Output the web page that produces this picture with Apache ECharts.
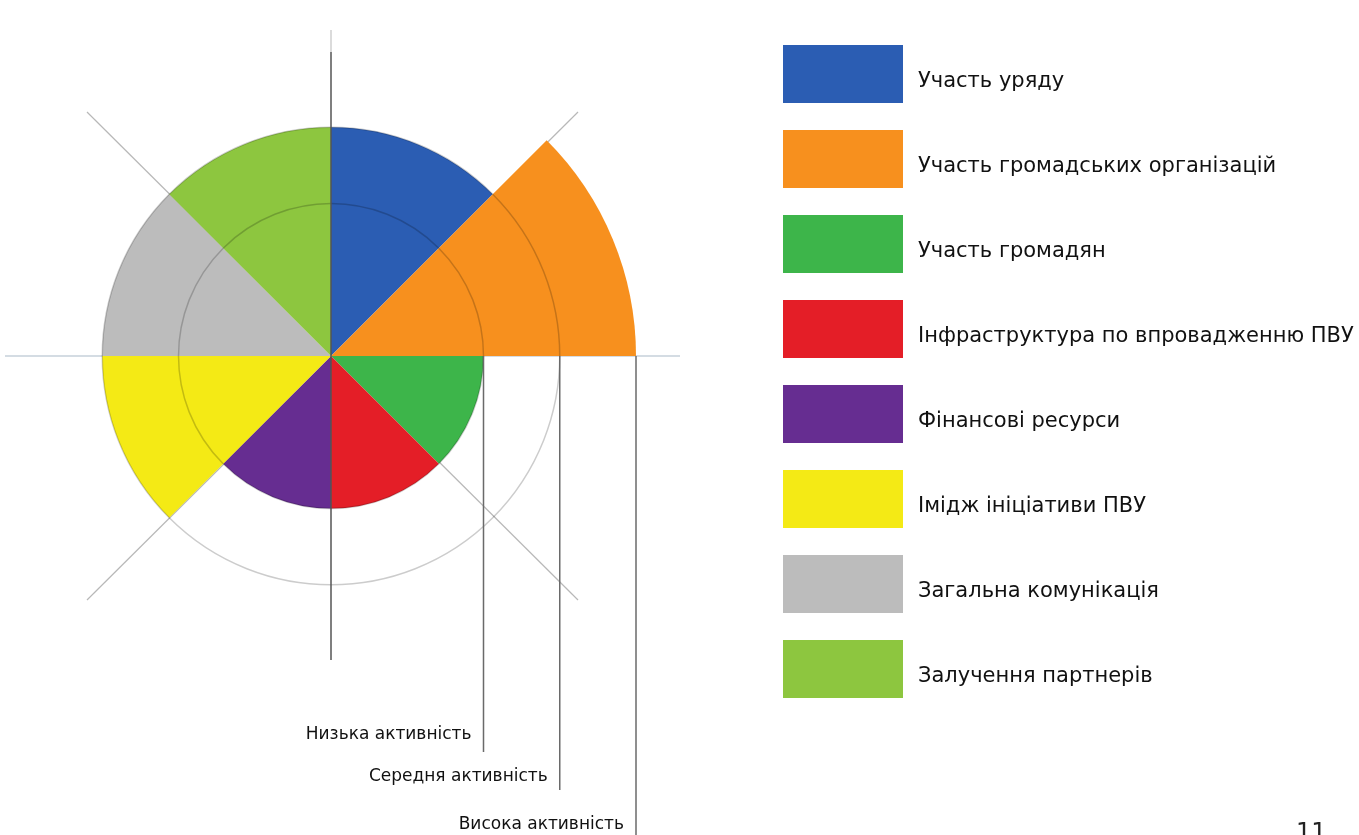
<!DOCTYPE html>
<html>
<head>
<meta charset="utf-8">
<script src="https://cdn.jsdelivr.net/npm/echarts@6/dist/echarts.min.js"></script>
<style>html,body{margin:0;padding:0;background:#fff}#c{width:1359px;height:835px}</style>
</head>
<body>
<div id="c"></div>
<script>
// Data
const categories = ['Участь уряду','Участь громадських організацій','Участь громадян','Інфраструктура по впровадженню ПВУ','Фінансові ресурси','Імідж ініціативи ПВУ','Загальна комунікація','Залучення партнерів'];
const values = [3, 4, 2, 2, 2, 3, 3, 3];
const colors = ['#2b5db3','#f7901e','#3db54a','#e41e27','#662d91','#f4ea15','#bcbcbc','#8dc63f'];
const levelLabels = ['Низька активність','Середня активність','Висока активність'];
const levelValues = [2, 3, 4];

const cx = 331, cy = 356, R = 305, maxV = 4;
const chart = echarts.init(document.getElementById('c'));

const series = categories.map((name, i) => ({
  name: name,
  type: 'bar',
  coordinateSystem: 'polar',
  stack: 'all',
  barCategoryGap: '0%',
  itemStyle: { color: colors[i] },
  data: categories.map((c, j) => j === i ? values[i] : '-'),
  z: 2
}));

// guide lines
const gfx = [];
gfx.push({ type:'line', shape:{x1:87,y1:112,x2:578,y2:600}, style:{stroke:'#b8b8b8',lineWidth:1.2}, z:0 });
gfx.push({ type:'line', shape:{x1:578,y1:112,x2:87,y2:600}, style:{stroke:'#b8b8b8',lineWidth:1.2}, z:0 });
gfx.push({ type:'line', shape:{x1:5,y1:cy,x2:680,y2:cy}, style:{stroke:'#c6d0da',lineWidth:1.5}, z:0 });
gfx.push({ type:'line', shape:{x1:cx,y1:30,x2:cx,y2:52}, style:{stroke:'#cfcfcf',lineWidth:1.5}, z:0 });
gfx.push({ type:'line', shape:{x1:cx,y1:52,x2:cx,y2:660}, style:{stroke:'#555',lineWidth:1.5}, z:100 });
const leaderEnds = [752, 790, 835];
const labelY = [735, 777, 825];
levelValues.forEach((v, k) => {
  const x = cx + R * v / maxV;
  gfx.push({ type:'line', shape:{x1:x,y1:cy,x2:x,y2:leaderEnds[k]}, style:{stroke:'#6a6a6a',lineWidth:1.5}, z:100 });
  gfx.push({ type:'text', x: x - 12, y: labelY[k], style:{ text: levelLabels[k], fill:'#111', font:'17px "DejaVu Sans"', textAlign:'right', textVerticalAlign:'middle' }, z:100 });
});
gfx.push({ type:'text', x:1296, y:822, style:{ text:'11', fill:'#222', font:'24px "DejaVu Sans"', textAlign:'left', textVerticalAlign:'top' }, z:100 });

chart.setOption({
  backgroundColor: '#fff',
  animation: false,
  polar: { center: [cx, cy], radius: R },
  angleAxis: {
    type: 'category',
    data: categories,
    startAngle: 90,
    axisLine: { show: false },
    axisTick: { show: false },
    axisLabel: { show: false },
    splitLine: { show: false }
  },
  radiusAxis: {
    type: 'value',
    min: 0, max: maxV, interval: 1,
    z: 5,
    axisLine: { show: false },
    axisTick: { show: false },
    axisLabel: { show: false },
    splitLine: { show: true, lineStyle: { color: ['rgba(0,0,0,0)','rgba(0,0,0,0)','rgba(0,0,0,0.2)','rgba(0,0,0,0.2)','rgba(0,0,0,0)'], width: 1.5 } }
  },
  legend: {
    orient: 'vertical',
    left: 778, top: 40,
    itemWidth: 120, itemHeight: 58, itemGap: 27,
    icon: 'rect',
    selectedMode: false,
    data: categories,
    formatter: n => '{t|' + n + '}',
    textStyle: {
      color: '#111', fontFamily: 'DejaVu Sans', fontSize: 21,
      rich: { t: { fontSize: 21, color: '#111', fontFamily: 'DejaVu Sans', padding: [16, 0, 0, 10] } }
    }
  },
  graphic: gfx,
  series: series
});
</script>
</body>
</html>
